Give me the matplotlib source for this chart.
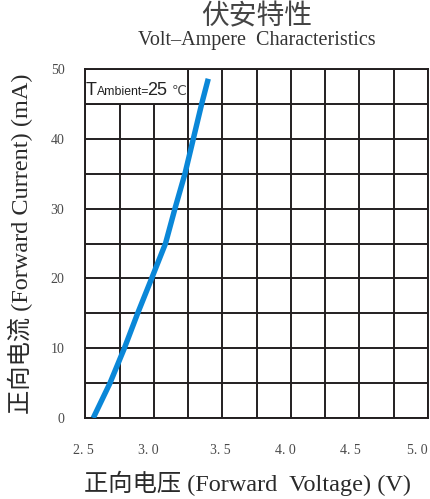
import matplotlib
matplotlib.use("Agg")
import matplotlib.pyplot as plt
from matplotlib.patches import Rectangle
from matplotlib.transforms import ScaledTranslation
import numpy as np

# ---- data ----
voltage = [2.558, 2.680, 2.785, 2.882, 2.984, 3.085, 3.154, 3.227, 3.288, 3.349, 3.397]
current = [0, 5, 10, 15, 20, 25, 30, 35, 40, 45, 48.6]
x_ticks = [2.5, 3.0, 3.5, 4.0, 4.5, 5.0]
x_tick_labels = ["2. 5", "3. 0", "3. 5", "4. 0", "4. 5", "5. 0"]
y_ticks = [0, 10, 20, 30, 40, 50]
y_tick_labels = ["0", "10", "20", "30", "40", "50"]
title_cn = "伏安特性"
title_en = "Volt\u2013Ampere  Characteristics"
xlabel = "正向电压 (Forward  Voltage) (V)"
ylabel = "正向电流 (Forward Current) (mA)"

GRID = "#231f20"
BLUE = "#0a87d8"
serif_cjk = ["Liberation Serif", "Noto Sans CJK SC"]

fig = plt.figure(figsize=(4.31, 4.99), dpi=100)
ax = fig.add_axes([85.3 / 431, 1 - 418 / 499, 342.7 / 431, 349 / 499])

ax.set_xlim(2.5, 5.0)
ax.set_ylim(0, 50)
ax.set_xticks(np.arange(2.5, 5.01, 0.25), minor=True)
ax.set_yticks(np.arange(0, 50.1, 5), minor=True)
ax.set_xticks(x_ticks)
ax.set_xticklabels(x_tick_labels)
ax.set_yticks(y_ticks)
ax.set_yticklabels(y_tick_labels)
ax.set_axisbelow(True)
ax.grid(True, which="both", color=GRID, linewidth=1.4)
ax.tick_params(which="both", length=0)
ax.tick_params(axis="x", pad=19, labelsize=10, labelcolor="#4a4a4a")
ax.tick_params(axis="y", pad=15, labelsize=10, labelcolor="#4a4a4a")
for lab in ax.get_xticklabels() + ax.get_yticklabels():
    lab.set_family("Liberation Serif")
# the reference's x labels sit slightly left of their grid lines
x_label_shift_px = [-2, -6, -2, -6, -9, -11]
for lab, dx in zip(ax.get_xticklabels(), x_label_shift_px):
    lab.set_transform(lab.get_transform() + ScaledTranslation(dx / 100, 0, fig.dpi_scale_trans))
for s in ax.spines.values():
    s.set_color(GRID)
    s.set_linewidth(1.4)

# white box for the ambient temperature note
ax.add_patch(Rectangle((2.5, 45), 0.75, 5, facecolor="white", edgecolor=GRID,
                       linewidth=1.4, zorder=1))
yb = 0.925
sans = ["Liberation Sans", "DejaVu Sans"]
ax.text(0.000, yb, "T", transform=ax.transAxes, fontsize=13, family=sans,
        va="baseline", ha="left", color="#222222", zorder=3)
ax.text(0.034, yb, "Ambient=", transform=ax.transAxes, fontsize=8.8, family=sans,
        va="baseline", ha="left", color="#222222", zorder=3)
ax.text(0.181, yb, "25", transform=ax.transAxes, fontsize=13, family=sans,
        va="baseline", ha="left", color="#222222", zorder=3)
ax.text(0.251, yb, "℃", transform=ax.transAxes, fontsize=9.5, family=["DejaVu Sans"],
        va="baseline", ha="left", color="#444444", zorder=3)

ax.plot(voltage, current, color=BLUE, linewidth=3.9, solid_capstyle="butt", zorder=4)

fig.text(257 / 431, 1 - 16 / 499, title_cn, fontsize=20, family=["Noto Sans CJK SC"],
         fontweight="light", ha="center", va="center", color="#444444")
fig.text(256.5 / 431, 1 - 40 / 499, title_en, fontsize=14.5, family=["Liberation Serif"],
         ha="center", va="center", color="#333333")
fig.text(248 / 431, 1 - 483 / 499, xlabel, fontsize=17.5, family=serif_cjk,
         fontweight="light", ha="center", va="center", color="#2a2a2a")
fig.text(20 / 431, 1 - 244 / 499, ylabel, fontsize=17.5, family=serif_cjk,
         fontweight="light", ha="center", va="center", rotation=90, color="#2a2a2a")

fig.savefig("out.png", dpi=100)
